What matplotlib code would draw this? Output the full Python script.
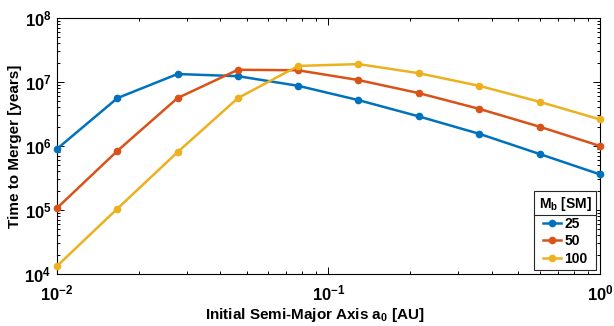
import matplotlib

matplotlib.use('Agg')
import matplotlib.pyplot as plt
from matplotlib.lines import Line2D
import numpy as np

# Data
semi_major_axis = [0.01, 0.0167, 0.0278, 0.0464, 0.0774, 0.129, 0.215, 0.359, 0.599, 1.0]
merger_time_25 = [9.0e5, 5.6e6, 1.33e7, 1.23e7, 8.7e6, 5.2e6, 2.9e6, 1.55e6, 7.5e5, 3.6e5]
merger_time_50 = [1.07e5, 8.4e5, 5.6e6, 1.55e7, 1.52e7, 1.07e7, 6.7e6, 3.8e6, 2.0e6, 1.0e6]
merger_time_100 = [1.33e4, 1.05e5, 8.0e5, 5.6e6, 1.78e7, 1.9e7, 1.37e7, 8.7e6, 4.9e6, 2.6e6]
series_labels = ['25', '50', '100']
series_colors = ['#0072BD', '#D95319', '#EDB120']

plt.rcParams['font.family'] = ['Liberation Sans', 'DejaVu Sans']
plt.rcParams['font.weight'] = 'bold'
plt.rcParams['mathtext.fontset'] = 'custom'
plt.rcParams['mathtext.rm'] = 'Liberation Sans:bold'
plt.rcParams['mathtext.bf'] = 'Liberation Sans:bold'
plt.rcParams['mathtext.it'] = 'Liberation Sans:bold'
plt.rcParams['mathtext.default'] = 'bf'

fig = plt.figure(figsize=(6.14, 3.26), dpi=100)
ax = fig.add_axes([0.0928, 0.1595, 0.8843, 0.7855])

all_series = [merger_time_25, merger_time_50, merger_time_100]
for values, label, color in zip(all_series, series_labels, series_colors):
    ax.plot(semi_major_axis, values, color=color, linewidth=1.8, marker='o',
            markersize=4.5, label=label, clip_on=False, zorder=3)

ax.set_xscale('log')
ax.set_yscale('log')
ax.set_xlim(1e-2, 1)
ax.set_ylim(1e4, 1e8)

ax.tick_params(which='both', direction='in', top=True, right=True, labelsize=12, width=0.7)
ax.tick_params(which='major', length=5, pad=4)
ax.tick_params(which='minor', length=2.5)
ax.tick_params(axis='x', which='major', pad=7)
for s in ax.spines.values():
    s.set_linewidth(0.8)

ax.set_xlabel('Initial Semi-Major Axis a$_0$ [AU]', fontsize=11, fontweight='bold')
ax.xaxis.set_label_coords(0.475, -0.125)
ax.set_ylabel('Time to Merger [years]', fontsize=11, fontweight='bold', labelpad=2)

lgd = ax.legend(loc='lower right', title='M$_\\mathregular{b}$ [SM]', fontsize=10,
                title_fontsize=10, frameon=True, fancybox=False, framealpha=1,
                edgecolor='#262626', handlelength=1.3, handletextpad=0.25,
                borderaxespad=0.3, borderpad=0.3, labelspacing=0.25)
lgd.get_frame().set_linewidth(0.8)
lgd.get_title().set_fontweight('bold')

# separator line under the legend title, like the MATLAB legend box
fig.canvas.draw()
renderer = fig.canvas.get_renderer()
frame_bb = lgd.get_frame().get_window_extent(renderer)
title_bb = lgd.get_title().get_window_extent(renderer)
sep_y = title_bb.y0 - 2
inv = fig.transFigure.inverted()
x0, y0 = inv.transform((frame_bb.x0, sep_y))
x1, _ = inv.transform((frame_bb.x1, sep_y))
fig.add_artist(Line2D([x0, x1], [y0, y0], color='#262626', linewidth=0.8, zorder=10))

plt.savefig('out.png', dpi=100)
